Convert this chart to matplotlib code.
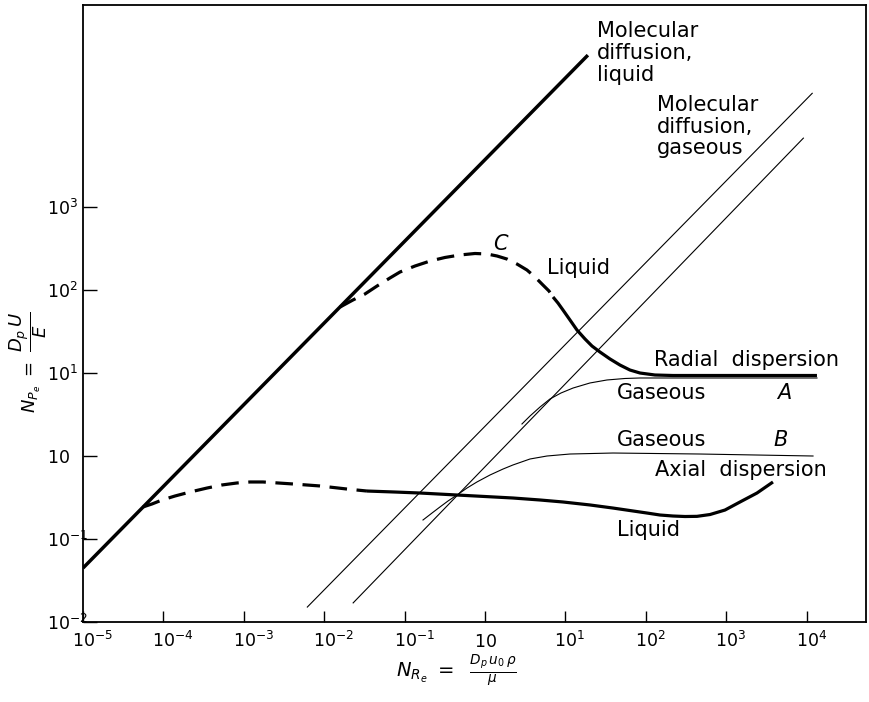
import numpy as np
import matplotlib
matplotlib.use('Agg')
import matplotlib.pyplot as plt
from matplotlib.transforms import ScaledTranslation

# ---- data: log10(N_Re) and log10(N_Pe) values ----
# Molecular diffusion, liquid (straight line)
mol_liq_x = [-5.0, 1.28]
mol_liq_y = [-1.35, 4.83]

# Molecular diffusion, gaseous (two thin straight lines)
mol_gas1_x = [-2.21, 4.07]
mol_gas1_y = [-1.82, 4.37]
mol_gas2_x = [-1.64, 3.96]
mol_gas2_y = [-1.77, 3.83]

# Radial dispersion, liquid (curve C): dashed part then solid part
c_dash_x = [-1.803, -1.642, -1.493, -1.343, -1.182, -1.057, -0.871, -0.684, -0.498,
            -0.311, -0.124, 0.025, 0.149, 0.274, 0.398, 0.522, 0.622, 0.721, 0.796, 0.846]
c_dash_y = [1.795, 1.880, 1.952, 2.048, 2.145, 2.217, 2.289, 2.349, 2.392,
            2.422, 2.440, 2.434, 2.410, 2.373, 2.313, 2.241, 2.157, 2.060, 1.988, 1.916]
c_solid_x = [0.846, 0.908, 0.970, 1.057, 1.144, 1.244, 1.331, 1.430, 1.555, 1.679,
             1.803, 1.928, 2.114, 2.338, 4.129]
c_solid_y = [1.916, 1.843, 1.759, 1.639, 1.518, 1.410, 1.325, 1.253, 1.169, 1.096,
             1.036, 1.000, 0.976, 0.970, 0.970]

# Radial dispersion, gaseous (curve A)
a_x = [0.460, 0.560, 0.684, 0.808, 0.945, 1.095, 1.306, 1.517, 1.741, 1.928, 4.129]
a_y = [0.386, 0.482, 0.590, 0.687, 0.759, 0.819, 0.880, 0.916, 0.934, 0.940, 0.940]

# Axial dispersion, gaseous (curve B)
b_x = [-0.771, -0.659, -0.560, -0.460, -0.348, -0.224, -0.100, 0.062, 0.224, 0.348,
       0.560, 0.771, 1.057, 1.592, 2.674, 4.080]
b_y = [-0.771, -0.687, -0.614, -0.542, -0.470, -0.386, -0.313, -0.229, -0.157, -0.108,
       -0.036, 0.000, 0.024, 0.036, 0.024, 0.000]

# Axial dispersion, liquid: dashed part then solid part
ax_dash_x = [-4.254, -4.142, -4.017, -3.856, -3.669, -3.458, -3.271, -3.085, -2.923,
             -2.761, -2.575, -2.388, -2.052, -1.716, -1.468]
ax_dash_y = [-0.614, -0.578, -0.530, -0.482, -0.434, -0.386, -0.349, -0.325, -0.313,
             -0.313, -0.325, -0.337, -0.361, -0.398, -0.422]
ax_solid_x = [-1.468, -1.119, -0.808, -0.348, 0.000, 0.348, 0.684, 0.970, 1.306, 1.592,
              1.803, 2.015, 2.177, 2.338, 2.488, 2.637, 2.799, 2.985, 3.172, 3.383, 3.582]
ax_solid_y = [-0.422, -0.434, -0.446, -0.470, -0.488, -0.506, -0.530, -0.554, -0.590,
              -0.627, -0.657, -0.687, -0.711, -0.723, -0.729, -0.727, -0.705, -0.651,
              -0.554, -0.446, -0.313]

x_tick_exp = [-5, -4, -3, -2, -1, 0, 1, 2, 3, 4]
x_tick_labels = [r'$10^{-5}$', r'$10^{-4}$', r'$10^{-3}$', r'$10^{-2}$', r'$10^{-1}$',
                 r'$10$', r'$10^{1}$', r'$10^{2}$', r'$10^{3}$', r'$10^{4}$']
y_tick_exp = [-2, -1, 0, 1, 2, 3]
y_tick_labels = [r'$10^{-2}$', r'$10^{-1}$', r'$10$', r'$10^{1}$', r'$10^{2}$', r'$10^{3}$']


def p(v):
    return np.power(10.0, np.asarray(v, dtype=float))


fig = plt.figure(figsize=(8.7, 7.02), dpi=100)
ax = fig.add_axes([83 / 870, 80 / 702, 783 / 870, 617 / 702])
ax.set_xscale('log')
ax.set_yscale('log')
ax.set_xlim(p(-5), p(4.739))
ax.set_ylim(p(-2), p(5.434))

thick = 2.3
thin = 0.8
dash = (5.5, 3.0)

ax.plot(p(mol_liq_x), p(mol_liq_y), color='black', lw=2.5, solid_capstyle='butt')
ax.plot(p(mol_gas1_x), p(mol_gas1_y), color='black', lw=thin)
ax.plot(p(mol_gas2_x), p(mol_gas2_y), color='black', lw=thin)

l, = ax.plot(p(c_dash_x), p(c_dash_y), color='black', lw=thick)
l.set_dashes(dash)
ax.plot(p(c_solid_x), p(c_solid_y), color='black', lw=thick,
        solid_capstyle='butt', solid_joinstyle='round')
ax.plot(p(a_x), p(a_y), color='black', lw=thin)
ax.plot(p(b_x), p(b_y), color='black', lw=thin)
l, = ax.plot(p(ax_dash_x), p(ax_dash_y), color='black', lw=thick)
l.set_dashes(dash)
ax.plot(p(ax_solid_x), p(ax_solid_y), color='black', lw=thick,
        solid_capstyle='butt', solid_joinstyle='round')

# ticks
ax.minorticks_off()
ax.set_xticks(p(x_tick_exp))
ax.set_xticklabels(x_tick_labels, va='baseline', ha='left')
ax.set_yticks(p(y_tick_exp))
ax.set_yticklabels(y_tick_labels, ha='left')
ax.tick_params(axis='x', direction='in', length=8, width=1, labelsize=12.5, pad=18)
ax.tick_params(axis='y', direction='in', length=10, width=1, labelsize=12.5, pad=26)
offset = ScaledTranslation(-11 / 100, 0, fig.dpi_scale_trans)
for lab in ax.get_xticklabels():
    lab.set_transform(lab.get_transform() + offset)
for s in ax.spines.values():
    s.set_linewidth(1.3)

# annotations
fs = 15
kw = dict(transform=ax.transAxes, fontsize=fs, color='black')
ax.text(0.6564, 0.9225, 'Molecular\ndiffusion,\nliquid', ha='left', va='center',
        linespacing=1.12, **kw)
ax.text(0.7331, 0.8030, 'Molecular\ndiffusion,\ngaseous', ha='left', va='center',
        linespacing=1.12, **kw)
ax.text(0.5326, 0.6126, 'C', ha='center', va='center', style='italic', **kw)
ax.text(0.5926, 0.5737, 'Liquid', ha='left', va='center', **kw)
ax.text(0.7292, 0.4246, 'Radial  dispersion', ha='left', va='center', **kw)
ax.text(0.6820, 0.3712, 'Gaseous', ha='left', va='center', **kw)
ax.text(0.8863, 0.3712, 'A', ha='left', va='center', style='italic', **kw)
ax.text(0.6820, 0.2950, 'Gaseous', ha='left', va='center', **kw)
ax.text(0.8812, 0.2950, 'B', ha='left', va='center', style='italic', **kw)
ax.text(0.7305, 0.2464, 'Axial  dispersion', ha='left', va='center', **kw)
ax.text(0.6820, 0.1491, 'Liquid', ha='left', va='center', **kw)

# axis titles
fig.text(456 / 870, 1 - 670 / 702, r'$N_{R_e}\ =\ \ \frac{D_p\, u_0\, \rho}{\mu}$',
         ha='center', va='center', fontsize=14)
fig.text(28 / 870, 1 - 362 / 702, r'$N_{P_e}\ =\ \dfrac{D_p\, U}{E}$',
         ha='center', va='center', rotation=90, fontsize=13)

fig.savefig('out.png', dpi=100, facecolor='white')
